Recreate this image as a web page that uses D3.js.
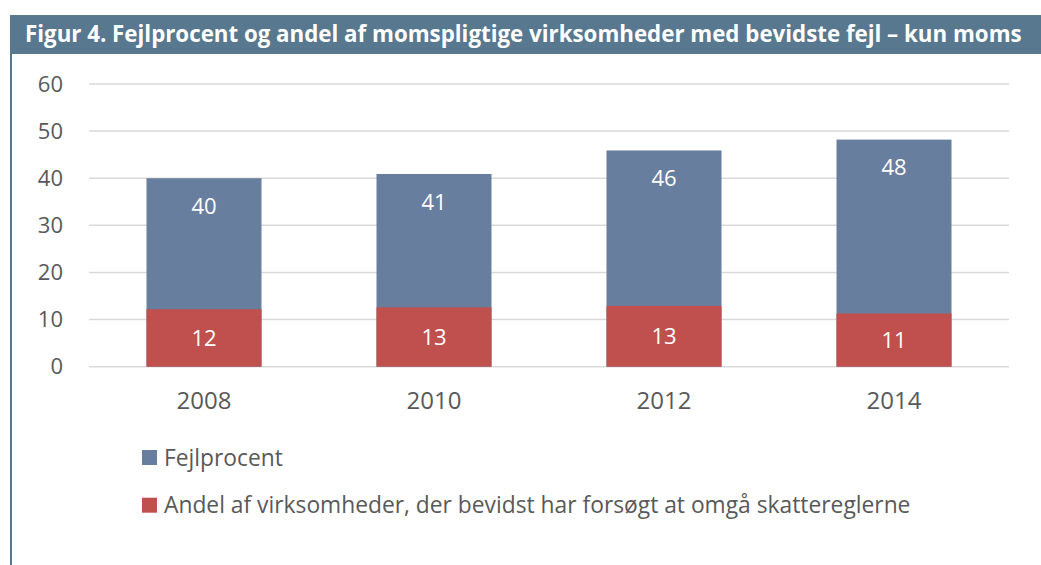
<!DOCTYPE html>
<html>
<head>
<meta charset="utf-8">
<script src="https://cdn.jsdelivr.net/npm/d3@7"></script>
<style>
  body { margin: 0; background: #fff; }
  svg { display: block; font-family: "Open Sans", sans-serif; }
</style>
</head>
<body>
<svg id="chart" width="1041" height="565"></svg>
<script>
// data
const years = ["2008", "2010", "2012", "2014"];
const fejlprocent = [40, 40.9, 45.9, 48.2];
const andel = [12.2, 12.6, 12.9, 11.3];
const yTicks = [0, 10, 20, 30, 40, 50, 60];
const seriesNames = ["Fejlprocent", "Andel af virksomheder, der bevidst har forsøgt at omgå skattereglerne"];
const title = "Figur 4. Fejlprocent og andel af momspligtige virksomheder med bevidste fejl – kun moms";

const blue = "#687e9e";
const red = "#c0504d";
const frame = "#58788f";
const textCol = "#595959";

const svg = d3.select("#chart");

// title bar + left border
svg.append("rect")
  .attr("x", 10).attr("y", 15)
  .attr("width", 1031).attr("height", 39)
  .attr("fill", frame);
svg.append("rect")
  .attr("x", 10).attr("y", 54)
  .attr("width", 2).attr("height", 511)
  .attr("fill", frame);
svg.append("text")
  .attr("x", 25).attr("y", 42)
  .attr("fill", "#fff")
  .style("font-size", "22.3px")
  .style("font-weight", "bold")
  .text(title);

const x = d3.scaleBand().domain(years).range([89, 1009]).paddingInner(0.5).paddingOuter(0.25);
const y = d3.scaleLinear().domain([0, 60]).range([366.7, 84]);

// gridlines
svg.append("g")
  .selectAll("line")
  .data(yTicks)
  .join("line")
  .attr("x1", 89).attr("x2", 1009)
  .attr("y1", d => y(d)).attr("y2", d => y(d))
  .attr("stroke", "#d9d9d9")
  .attr("stroke-width", 1.5);

// y labels
const yAxis = svg.append("g")
  .attr("transform", "translate(63,0)")
  .call(d3.axisLeft(y).tickValues(yTicks).tickSize(0).tickPadding(0));
yAxis.select(".domain").remove();
yAxis.selectAll("text")
  .attr("fill", textCol)
  .style("font-size", "22px")
  .style("font-family", "'Open Sans', sans-serif");

// x labels
const xAxis = svg.append("g")
  .attr("transform", "translate(0,378)")
  .call(d3.axisBottom(x).tickSize(0).tickPadding(14));
xAxis.select(".domain").remove();
xAxis.selectAll("text")
  .attr("fill", textCol)
  .style("font-size", "24px")
  .style("font-family", "'Open Sans', sans-serif");

// blue bars behind, red bars in front (100% overlap)
svg.append("g")
  .selectAll("rect")
  .data(fejlprocent)
  .join("rect")
  .attr("x", (d, i) => x(years[i]))
  .attr("width", x.bandwidth())
  .attr("y", d => y(d))
  .attr("height", d => y(0) - y(d))
  .attr("fill", blue);

svg.append("g")
  .selectAll("rect")
  .data(andel)
  .join("rect")
  .attr("x", (d, i) => x(years[i]))
  .attr("width", x.bandwidth())
  .attr("y", d => y(d))
  .attr("height", d => y(0) - y(d))
  .attr("fill", red);

// labels
svg.append("g")
  .selectAll("text")
  .data(fejlprocent)
  .join("text")
  .attr("x", (d, i) => x(years[i]) + x.bandwidth() / 2)
  .attr("y", d => y(d) + 28)
  .attr("dy", "0.35em")
  .attr("text-anchor", "middle")
  .attr("fill", "#fff")
  .style("font-size", "22px")
  .text(d => Math.round(d));

svg.append("g")
  .selectAll("text")
  .data(andel)
  .join("text")
  .attr("x", (d, i) => x(years[i]) + x.bandwidth() / 2)
  .attr("y", d => (y(d) + y(0)) / 2)
  .attr("dy", "0.35em")
  .attr("text-anchor", "middle")
  .attr("fill", "#fff")
  .style("font-size", "22px")
  .text(d => Math.round(d));

// legend
const legend = svg.append("g")
  .selectAll("g")
  .data(seriesNames)
  .join("g")
  .attr("transform", (d, i) => `translate(142,${450 + i * 47.7})`);
legend.append("rect")
  .attr("width", 15).attr("height", 15)
  .attr("fill", (d, i) => i === 0 ? blue : red);
legend.append("text")
  .attr("x", 22).attr("y", 15.5)
  .attr("fill", textCol)
  .style("font-size", "22.8px")
  .text(d => d);
</script>
</body>
</html>
